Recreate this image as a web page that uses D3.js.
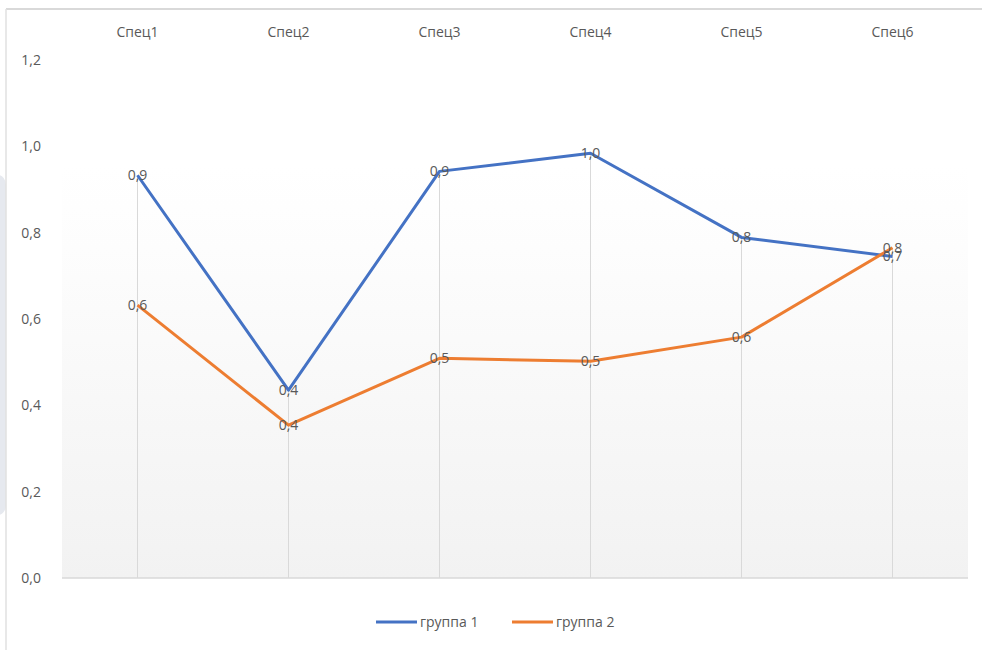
<!DOCTYPE html>
<html>
<head>
<meta charset="utf-8">
<script src="https://cdn.jsdelivr.net/npm/d3@7"></script>
<style>
  body { margin: 0; background: #fff; }
  text { font-family: "Open Sans", "Noto Sans", sans-serif; fill: #595959; }
</style>
</head>
<body>
<svg id="chart" width="982" height="650"></svg>
<script>
// data
const categories = ["Спец1", "Спец2", "Спец3", "Спец4", "Спец5", "Спец6"];
const group1 = [0.933, 0.435, 0.942, 0.984, 0.789, 0.745];
const group2 = [0.632, 0.354, 0.509, 0.502, 0.558, 0.765];
const seriesNames = ["группа 1", "группа 2"];
const yTicks = [0, 0.2, 0.4, 0.6, 0.8, 1.0, 1.2];

const colors = ["#4472c4", "#ed7d31"];
const series = [group1, group2];

const svg = d3.select("#chart");
const margin = { top: 60, right: 14, bottom: 72, left: 62 };
const width = 982 - margin.left - margin.right;
const height = 650 - margin.top - margin.bottom;

// frame of the screenshot
svg.append("rect").attr("x", -10).attr("y", 175).attr("width", 16).attr("height", 340)
    .attr("rx", 10).attr("fill", "#e6e9ef");
svg.append("line").attr("x1", 6).attr("x2", 982).attr("y1", 9).attr("y2", 9)
    .attr("stroke", "#d9d9d9").attr("stroke-width", 2);
svg.append("line").attr("x1", 6).attr("x2", 6).attr("y1", 9).attr("y2", 650)
    .attr("stroke", "#e0e0e0").attr("stroke-width", 1.5);

const g = svg.append("g").attr("transform", `translate(${margin.left},${margin.top})`);

const x = d3.scaleBand().domain(categories).range([0, width]);
const y = d3.scaleLinear().domain([0, 1.2]).range([height, 0]);
const fmt = d3.formatLocale({ decimal: ",", thousands: " ", grouping: [3], currency: ["", ""] }).format(".1f");
const cx = d => x(d) + x.bandwidth() / 2;

// plot background gradient
const grad = svg.append("defs").append("linearGradient").attr("id", "bg")
    .attr("x1", 0).attr("x2", 0).attr("y1", 0).attr("y2", 1);
grad.append("stop").attr("offset", "0%").attr("stop-color", "#ffffff");
grad.append("stop").attr("offset", "20%").attr("stop-color", "#fdfdfd");
grad.append("stop").attr("offset", "100%").attr("stop-color", "#f2f2f2");
g.append("rect").attr("y", y(0.955)).attr("width", width).attr("height", height - y(0.955))
    .attr("fill", "url(#bg)");

// drop lines
g.selectAll(".drop").data(categories).join("line")
    .attr("x1", cx).attr("x2", cx)
    .attr("y1", (d, i) => y(Math.max(group1[i], group2[i])))
    .attr("y2", height)
    .attr("stroke", "#d9d9d9").attr("stroke-width", 1);

// x axis line
g.append("line").attr("x1", 0).attr("x2", width).attr("y1", height).attr("y2", height)
    .attr("stroke", "#d9d9d9").attr("stroke-width", 1.5);

// y axis labels
const yAxis = g.append("g").attr("transform", "translate(-18,0)")
    .call(d3.axisLeft(y).tickValues(yTicks).tickFormat(fmt).tickSize(0));
yAxis.select(".domain").remove();
yAxis.selectAll("text").style("font-size", "14px").attr("fill", "#595959");

// category labels on top
const xAxis = g.append("g").attr("transform", "translate(0,-20)")
    .call(d3.axisTop(x).tickSize(0));
xAxis.select(".domain").remove();
xAxis.selectAll("text").style("font-size", "14px").attr("fill", "#595959");

// lines
const line = d3.line().x((d, i) => cx(categories[i])).y(d => y(d));
series.forEach((s, k) => {
    g.append("path").datum(s)
        .attr("fill", "none")
        .attr("stroke", colors[k])
        .attr("stroke-width", 3)
        .attr("stroke-linejoin", "round")
        .attr("d", line);
});

// data labels
series.forEach((s, k) => {
    g.selectAll(".lbl" + k).data(s).join("text")
        .attr("x", (d, i) => cx(categories[i]))
        .attr("y", d => y(d))
        .attr("dy", "0.35em")
        .attr("text-anchor", "middle")
        .style("font-size", "14px")
        .text(d => fmt(d));
});

// legend
const legend = svg.append("g").attr("transform", "translate(376,622)");
seriesNames.forEach((name, k) => {
    const lg = legend.append("g").attr("transform", `translate(${k * 136},0)`);
    lg.append("line").attr("x1", 0).attr("x2", 41).attr("y1", 0).attr("y2", 0)
        .attr("stroke", colors[k]).attr("stroke-width", 3);
    lg.append("text").attr("x", 44).attr("dy", "0.35em")
        .style("font-size", "14px").text(name);
});
</script>
</body>
</html>
